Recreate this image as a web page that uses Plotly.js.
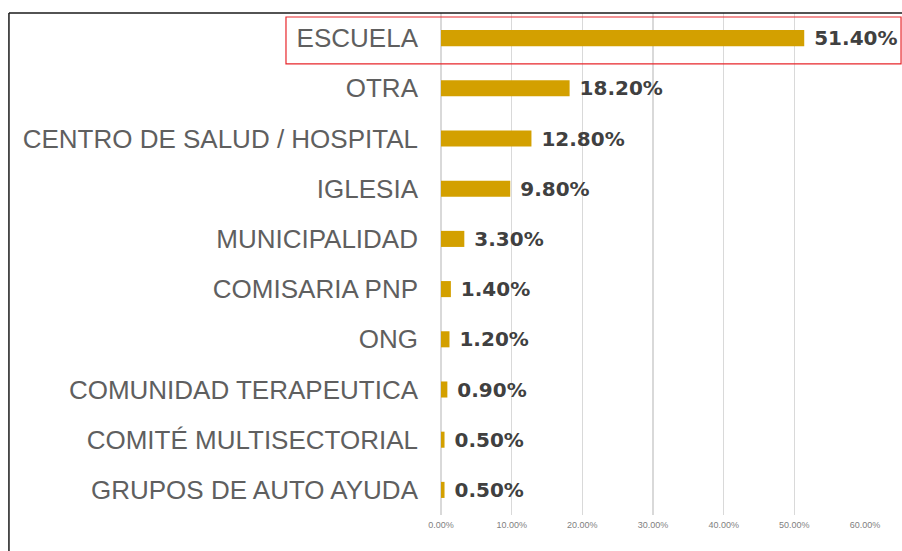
<!DOCTYPE html>
<html>
<head>
<meta charset="utf-8">
<script src="https://cdn.plot.ly/plotly-3.0.1.min.js"></script>
<style>html,body{margin:0;padding:0;background:#fff;}#chart{width:902px;height:551px;}</style>
</head>
<body>
<div id="chart"></div>
<script>
const categories = ["ESCUELA","OTRA","CENTRO DE SALUD / HOSPITAL","IGLESIA","MUNICIPALIDAD","COMISARIA PNP","ONG","COMUNIDAD TERAPEUTICA","COMITÉ MULTISECTORIAL","GRUPOS DE AUTO AYUDA"];
const values = [0.514,0.182,0.128,0.098,0.033,0.014,0.012,0.009,0.005,0.005];
const tickValues = [0,0.1,0.2,0.3,0.4,0.5,0.6];

const trace = {
  type: 'bar',
  orientation: 'h',
  x: values,
  y: categories,
  width: 0.32,
  marker: {color: '#D3A000'},
  texttemplate: ' %{x:.2%}',
  textposition: 'outside',
  constraintext: 'none',
  cliponaxis: false,
  textfont: {family: 'DejaVu Sans', size: 20, color: '#404040', weight: 'bold'},
  hoverinfo: 'skip'
};

const layout = {
  width: 902, height: 551,
  margin: {l: 441, r: 37, t: 13, b: 36},
  paper_bgcolor: '#fff', plot_bgcolor: '#fff',
  showlegend: false,
  xaxis: {
    range: [0, 0.6],
    tickvals: tickValues,
    tickformat: '.2%',
    showgrid: true, gridcolor: '#d9d9d9', gridwidth: 1.5,
    zeroline: true, zerolinecolor: '#d9d9d9', zerolinewidth: 1.5,
    showline: false,
    ticks: '',
    ticklabelstandoff: 3,
    tickfont: {family: 'Liberation Sans', size: 9, color: '#7f7f7f'},
    fixedrange: true
  },
  yaxis: {
    autorange: 'reversed',
    type: 'category',
    ticks: '',
    showgrid: false, zeroline: false, showline: false,
    ticklabelstandoff: 22,
    tickfont: {family: 'Liberation Sans', size: 26, color: '#5f5f5f'},
    fixedrange: true
  },
  shapes: [
    {type: 'line', xref: 'paper', yref: 'paper', x0: -1.019, x1: 1.1, y0: 1.0, y1: 1.0, line: {color: '#1a1a1a', width: 1.5}},
    {type: 'line', xref: 'paper', yref: 'paper', x0: -1.019, x1: -1.019, y0: 1.0, y1: -0.1, line: {color: '#1a1a1a', width: 1.5}},
    {type: 'rect', xref: 'paper', yref: 'paper', x0: -0.3656, x1: 1.085, y0: 0.8986, y1: 0.992, line: {color: '#e8262b', width: 1.2}, fillcolor: 'rgba(0,0,0,0)'}
  ]
};

Plotly.newPlot('chart', [trace], layout, {displayModeBar: false, staticPlot: true});
</script>
</body>
</html>
